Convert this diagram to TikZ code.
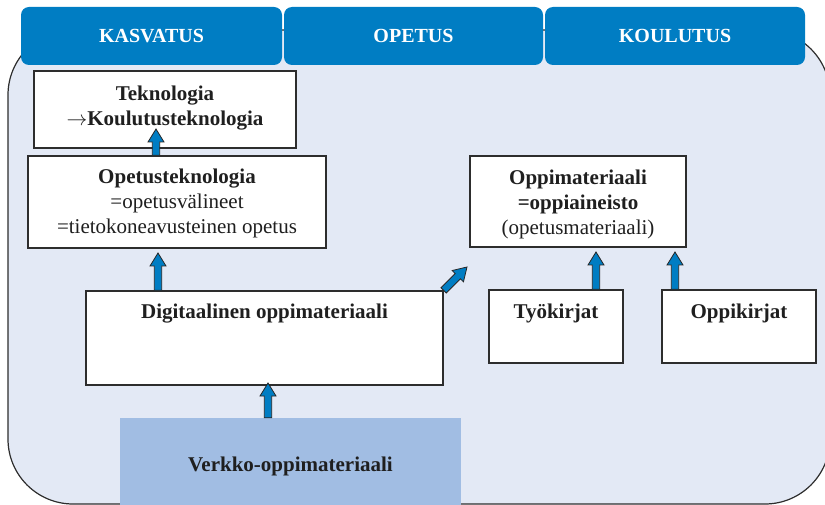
\documentclass[tikz,border=0pt]{standalone}
\usepackage{fontspec}
\setmainfont{Liberation Serif}
\usetikzlibrary{calc}

\definecolor{tabblue}{RGB}{0,125,195}
\definecolor{panelfill}{RGB}{227,233,245}
\definecolor{webfill}{RGB}{161,189,227}
\definecolor{edge}{RGB}{45,45,45}

% Block arrow from point #1 to tip #2
\newcommand\blockarrow[2]{%
  \coordinate (ba-s) at (#1);
  \coordinate (ba-t) at (#2);
  \coordinate (ba-n) at ($(ba-t)!13pt!(ba-s)$);
  \filldraw[arrowbody]
    ($(ba-s)!3.7pt!90:(ba-t)$) -- ($(ba-n)!3.7pt!90:(ba-t)$) --
    ($(ba-n)!8pt!90:(ba-t)$) -- (ba-t) --
    ($(ba-n)!8pt!-90:(ba-t)$) -- ($(ba-n)!3.7pt!-90:(ba-t)$) --
    ($(ba-s)!3.7pt!-90:(ba-t)$) -- cycle;
}

\begin{document}
\begin{tikzpicture}[x=1pt,y=-1pt,
  tab/.style={fill=tabblue, rounded corners=8pt, text=white,
    font=\fontsize{20}{24}\selectfont\bfseries, inner sep=0pt},
  box/.style={draw=edge, line width=1.3pt, fill=white, inner sep=0pt},
  txt/.style={font=\fontsize{21}{25}\selectfont, inner sep=0pt, align=center, text=black!88},
  arrowbody/.style={fill=tabblue, draw=black!85, line width=0.8pt, line join=miter}]
\useasboundingbox (0,0) rectangle (825,505);

% background panel
\draw[fill=panelfill, draw=edge, line width=1.2pt, rounded corners=65pt]
  (8,30) rectangle (830,504);

% header tabs
\node[tab, minimum width=261pt, minimum height=58pt] (kasv) at (151.5,36) {KASVATUS};
\node[tab, minimum width=259pt, minimum height=58pt] (opet) at (413.5,36) {OPETUS};
\node[tab, minimum width=260pt, minimum height=58pt] (koul) at (675,36) {KOULUTUS};

% boxes
\node[box, minimum width=262pt, minimum height=77pt] (tek) at (165,109.5) {};
\node[box, minimum width=298pt, minimum height=92pt] (ot)  at (177,202) {};
\node[box, minimum width=357pt, minimum height=94pt] (dig) at (264.5,338) {};
\node[box, minimum width=216pt, minimum height=91pt] (om)  at (578,201.5) {};
\node[box, minimum width=134pt, minimum height=73pt] (tk)  at (556,326.5) {};
\node[box, minimum width=154pt, minimum height=73pt] (ok)  at (739,326.5) {};
\node[fill=webfill, inner sep=0pt, minimum width=341pt, minimum height=96pt] (verk) at (290.5,466) {};

% box texts
\node[txt, anchor=north] (tek-t) at (165,85.5)
  {\textbf{Teknologia}\\$\rightarrow$\textbf{Koulutusteknologia}};
\node[txt, anchor=north] (ot-t) at (177,168.5)
  {\textbf{Opetusteknologia}\\=opetusvälineet\\=tietokoneavusteinen opetus};
\node[txt, anchor=north] (om-t) at (578,169.5)
  {\textbf{Oppimateriaali}\\\textbf{=oppiaineisto}\\(opetusmateriaali)};
\node[txt, anchor=base] (dig-t) at (264.5,318) {\textbf{Digitaalinen oppimateriaali}};
\node[txt, anchor=base] (tk-t) at (556,318) {\textbf{Työkirjat}};
\node[txt, anchor=base] (ok-t) at (739,318) {\textbf{Oppikirjat}};
\node[txt, anchor=base] (verk-t) at (290.5,471) {\textbf{Verkko-oppimateriaali}};

% arrow tips
\coordinate (t1) at (156,129);
\coordinate (t2) at (158,253);
\coordinate (t3) at (268,383);
\coordinate (t4) at (467,267);
\coordinate (t5) at (596,252);
\coordinate (t6) at (675,252);

\blockarrow{ot.north -| t1}{t1}
\blockarrow{dig.north -| t2}{t2}
\blockarrow{verk.north -| t3}{t3}
\blockarrow{dig.north east}{t4}
\blockarrow{tk.north -| t5}{t5}
\blockarrow{ok.north -| t6}{t6}
\end{tikzpicture}
\end{document}
